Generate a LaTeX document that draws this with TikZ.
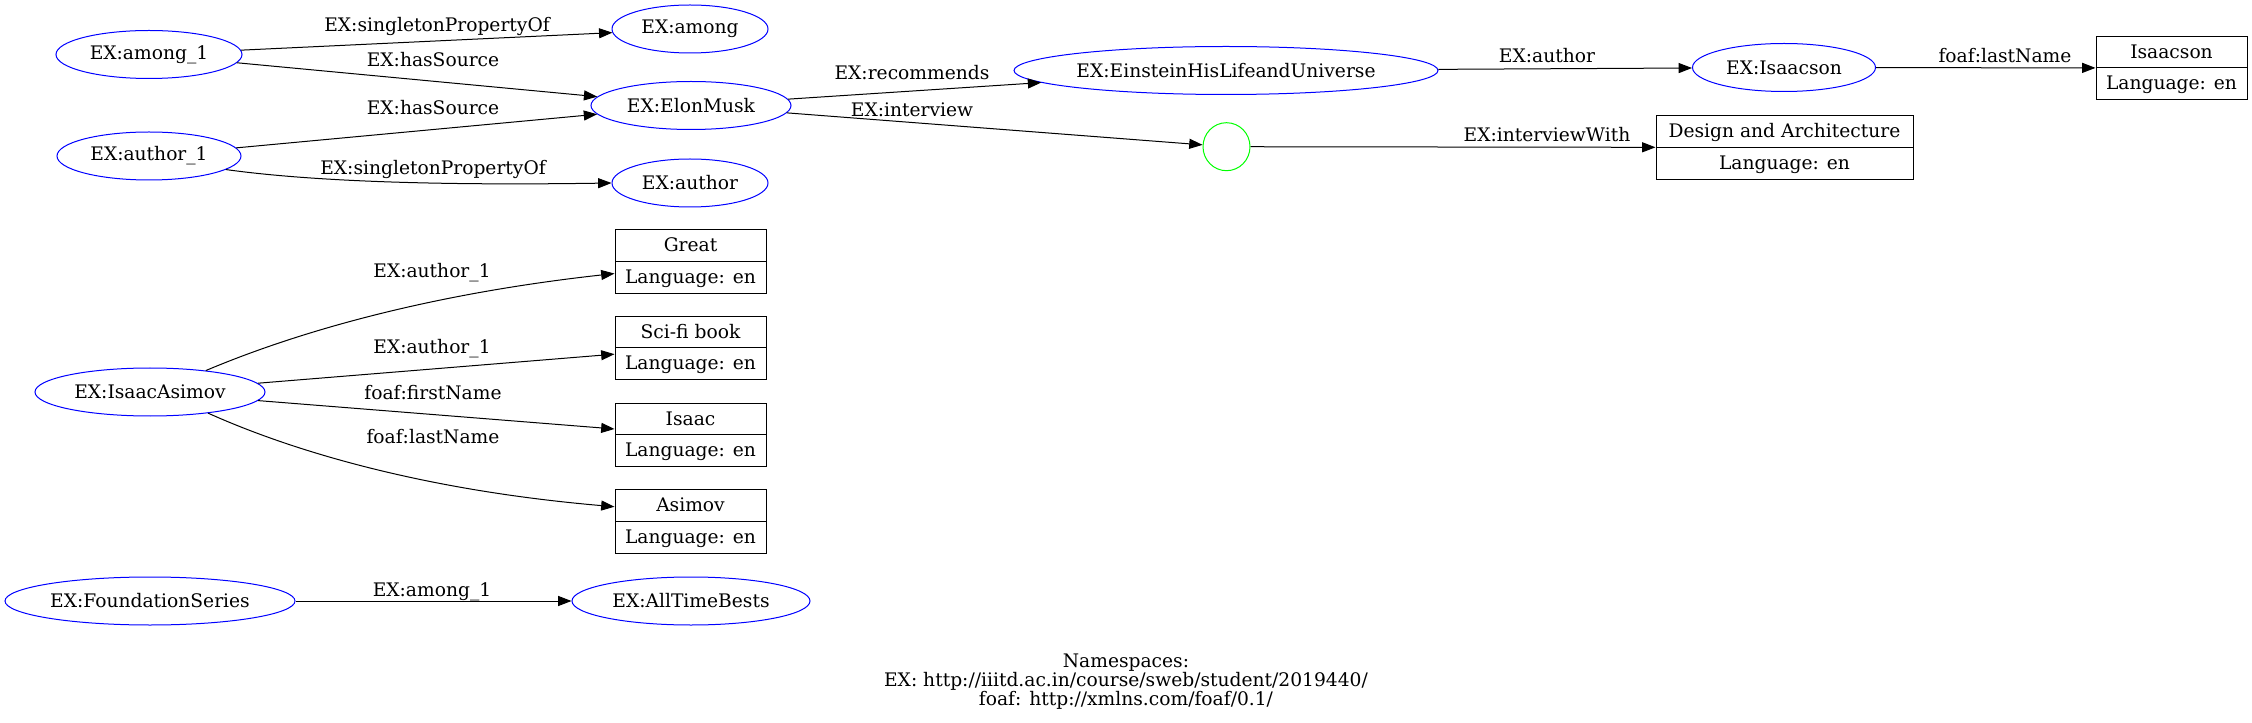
\documentclass[tikz,border=0pt]{standalone}
\usepackage{fontspec}
\setmainfont{DejaVu Serif}
\usetikzlibrary{shapes.geometric,shapes.multipart,arrows.meta}

% strut for the two parts of a literal box
\newcommand{\lstrut}{\rule[-3pt]{0pt}{15pt}}

\begin{document}
\begin{tikzpicture}[x=0.75pt,y=-0.75pt,
    font=\fontsize{14pt}{17pt}\selectfont,
    res/.style={ellipse, draw=blue, line width=0.75pt, inner sep=0pt, minimum height=36pt},
    blank/.style={ellipse, draw=green, line width=0.75pt, inner sep=0pt, minimum width=35.25pt, minimum height=36pt},
    lit/.style={rectangle split, rectangle split parts=2, draw, line width=0.75pt, inner ysep=4pt, minimum width=113.25pt},
    lbl/.style={inner sep=0pt, anchor=base},
    edge/.style={-{Triangle[length=10pt,width=7.5pt]}, line width=0.75pt}]

    % Fix the page to the size of the graph
    \useasboundingbox (0,0) rectangle (2252,723);

    % Subjects in the first column
    \node[res, minimum width=139.5pt] (among1) at (149,54.5) {EX:among\_1};
    \node[res, minimum width=138pt] (author1) at (149,156) {EX:author\_1};
    \node[res, minimum width=172.5pt] (asimov) at (150,392) {EX:IsaacAsimov};
    \node[res, minimum width=217.5pt] (foundation) at (150,601) {EX:FoundationSeries};

    % Second column
    \node[res, minimum width=117pt] (among) at (690,29) {EX:among};
    \node[res, minimum width=150pt] (elon) at (691,105.5) {EX:ElonMusk};
    \node[res, minimum width=117pt] (author) at (690,183) {EX:author};
    \node[res, minimum width=178.5pt] (alltime) at (691,601) {EX:AllTimeBests};

    % Literal values of Isaac Asimov
    \node[lit] (great) at (690.5,261.5) {\lstrut Great \nodepart{two}\lstrut Language: en};
    \node[lit] (scifi) at (690.5,348) {\lstrut Sci-fi book \nodepart{two}\lstrut Language: en};
    \node[lit] (isaac) at (690.5,435) {\lstrut Isaac \nodepart{two}\lstrut Language: en};
    \node[lit] (asimovLit) at (690.5,521.5) {\lstrut Asimov \nodepart{two}\lstrut Language: en};

    % Third and fourth columns
    \node[res, minimum width=318pt] (einstein) at (1226,70.5) {EX:EinsteinHisLifeandUniverse};
    \node[blank] (bnode) at (1226.5,146.7) {};
    \node[res, minimum width=137.25pt] (isaacson) at (1784,67.5) {EX:Isaacson};
    \node[lit, minimum width=192.75pt] (design) at (1784.5,147.5) {\lstrut Design and Architecture \nodepart{two}\lstrut Language: en};
    \node[lit] (isaacsonLit) at (2171.5,68) {\lstrut Isaacson \nodepart{two}\lstrut Language: en};

    % Edges
    \draw[edge] (among1) -- (among);
    \draw[edge] (among1) -- (elon);
    \draw[edge] (author1) -- (elon);
    \draw[edge] (author1.-10) .. controls (330,184) and (480,185) .. (author.west);
    \draw[edge] (elon) -- (einstein);
    \draw[edge] (elon) -- (bnode);
    \draw[edge] (einstein) -- (isaacson);
    \draw[edge] (isaacson) -- (isaacsonLit);
    \draw[edge] (bnode) -- (design);
    \draw[edge] (asimov.21) .. controls (290,335) and (420,295) .. (great.189);
    \draw[edge] (asimov) -- (scifi);
    \draw[edge] (asimov) -- (isaac);
    \draw[edge] (asimov.-20) .. controls (290,450) and (420,490) .. (asimovLit.169);
    \draw[edge] (foundation) -- (alltime);

    % Edge labels
    \node[lbl] (lSing1) at (437,32) {EX:singletonPropertyOf};
    \node[lbl] (lSrc1) at (433,67) {EX:hasSource};
    \node[lbl] (lSrc2) at (433,115) {EX:hasSource};
    \node[lbl] (lSing2) at (433,175) {EX:singletonPropertyOf};
    \node[lbl] (lRec) at (912,80) {EX:recommends};
    \node[lbl] (lInt) at (912,117) {EX:interview};
    \node[lbl] (lAuth) at (1547,63) {EX:author};
    \node[lbl] (lIntW) at (1547,142) {EX:interviewWith};
    \node[lbl] (lLast1) at (2005,63) {foaf:lastName};
    \node[lbl] (lAu1) at (432,278) {EX:author\_1};
    \node[lbl] (lAu2) at (432,354) {EX:author\_1};
    \node[lbl] (lFirst) at (433,400) {foaf:firstName};
    \node[lbl] (lLast2) at (433,443) {foaf:lastName};
    \node[lbl] (lAmong) at (432,596) {EX:among\_1};

    % Namespaces legend
    \node[align=center, inner sep=0pt, font=\fontsize{14pt}{14.25pt}\selectfont] (ns) at (1126,682)
        {Namespaces:\\EX: http://iiitd.ac.in/course/sweb/student/2019440/\\foaf: http://xmlns.com/foaf/0.1/};

\end{tikzpicture}
\end{document}
